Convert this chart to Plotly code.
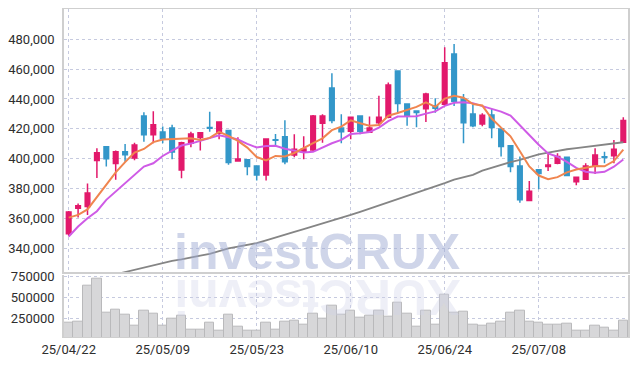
import plotly.graph_objects as go

dates = ["25/04/22", "25/04/23", "25/04/24", "25/04/25", "25/04/28", "25/04/29", "25/04/30", "25/05/02", "25/05/07", "25/05/08",
         "25/05/09", "25/05/12", "25/05/13", "25/05/14", "25/05/15", "25/05/16", "25/05/19", "25/05/20", "25/05/21", "25/05/22",
         "25/05/23", "25/05/26", "25/05/27", "25/05/28", "25/05/29", "25/05/30", "25/06/02", "25/06/04", "25/06/05", "25/06/09",
         "25/06/10", "25/06/11", "25/06/12", "25/06/13", "25/06/16", "25/06/17", "25/06/18", "25/06/19", "25/06/20", "25/06/23",
         "25/06/24", "25/06/25", "25/06/26", "25/06/27", "25/06/30", "25/07/01", "25/07/02", "25/07/03", "25/07/04", "25/07/07",
         "25/07/08", "25/07/09", "25/07/10", "25/07/11", "25/07/14", "25/07/15", "25/07/16", "25/07/17", "25/07/18", "25/07/21"]

open_ = [349600, 366800, 367900, 398700, 407900, 396700, 404700, 400500, 428600, 416100,
         417900, 420600, 392400, 410300, 414100, 420800, 417000, 418800, 398500, 399200,
         395100, 389100, 412700, 414600, 402500, 404500, 405800, 423700, 447400, 420600,
         418400, 428600, 417700, 424100, 427700, 458800, 436700, 432000, 433500, 435500,
         436500, 470100, 439800, 430000, 423300, 429300, 419900, 408700, 395100, 371900,
         392500, 394700, 397000, 401000, 384600, 386200, 395300, 401200, 402000, 411000]
high = [365000, 370000, 383300, 407000, 407900, 405400, 409900, 410700, 431100, 431800,
        421500, 422800, 411400, 418100, 417500, 431500, 424800, 419000, 414400, 399800,
        395300, 413500, 416600, 425700, 416400, 415000, 429300, 429800, 457200, 429800,
        428000, 428600, 428200, 442200, 451000, 458800, 437000, 432000, 444200, 440500,
        474600, 476800, 443300, 436000, 430400, 433300, 420000, 409000, 401400, 385100,
        392500, 403200, 403600, 401000, 388000, 397000, 407000, 404700, 412500, 427700]
low = [348000, 360500, 362300, 387000, 394700, 385800, 398000, 399000, 411400, 410300,
       410300, 399600, 386900, 407700, 405400, 418100, 413000, 396000, 398500, 388900,
       385300, 385300, 409000, 396300, 401000, 399600, 405000, 410700, 423700, 410300,
       413000, 416400, 417700, 421900, 427000, 430500, 422100, 421000, 424600, 430800,
       435500, 435300, 410300, 421000, 421700, 413700, 401400, 390900, 370500, 371500,
       379500, 391800, 396300, 388700, 382200, 386000, 389800, 397000, 397000, 410500]
close = [364300, 368500, 377000, 404000, 400000, 404700, 402700, 409200, 416100, 422800,
         413400, 404500, 410700, 416600, 417400, 420300, 424600, 397400, 399800, 394700,
         389100, 413200, 412400, 398000, 406300, 406500, 428600, 428600, 425500, 418100,
         427700, 418400, 420600, 427700, 449400, 436900, 428600, 430900, 443300, 433800,
         464300, 438500, 424100, 422100, 429100, 420800, 408100, 394700, 372400, 378200,
         390000, 395800, 401400, 388700, 387500, 395100, 402500, 400800, 406300, 425500]

ma5 = [360500, 362300, 366000, 374500, 382800, 390800, 397700, 404100, 406500, 411100,
       412800, 413200, 413500, 413600, 412500, 413900, 417900, 415300, 411900, 407400,
       401100, 398800, 401800, 401500, 403800, 407300, 410400, 413600, 419100, 421500,
       425700, 423700, 422100, 422500, 428800, 430600, 432600, 434700, 437800, 434700,
       440200, 442200, 440800, 436600, 435600, 426900, 420800, 415000, 405000, 394800,
       388700, 386200, 387600, 390800, 392700, 393700, 395000, 394900, 398400, 406000]
ma10 = [347800, 354500, 360100, 364800, 372400, 377900, 383100, 389100, 394700, 396900,
        401800, 405400, 408800, 410100, 411800, 413400, 415600, 414400, 412800, 409900,
        407500, 408400, 408600, 406700, 405600, 404200, 404600, 407700, 410300, 412600,
        416500, 417000, 417800, 420800, 425100, 428200, 428200, 428400, 430200, 431700,
        435400, 437400, 437800, 437200, 435200, 433600, 431500, 428900, 422300, 416200,
        409300, 403500, 401300, 397900, 393800, 391200, 390600, 391200, 394600, 399400]
ma60 = [313000, 315000, 317000, 319000, 320800, 322500, 324000, 325500, 327000, 328800,
        330000, 331500, 332500, 333500, 335000, 336200, 338000, 339800, 341000, 342200,
        343400, 345200, 347300, 349300, 351000, 352800, 354600, 356600, 358500, 360400,
        362300, 364400, 366500, 368800, 371000, 373000, 375000, 377000, 378900, 381200,
        383600, 386000, 387500, 389100, 392000, 394000, 396000, 397700, 399200, 401000,
        402800, 404000, 405200, 406300, 407000, 407800, 408500, 409300, 410100, 411000]

volume = [204800, 216700, 645200, 728600, 323800, 359500, 300000, 160700, 347600, 311900,
          160700, 252400, 279800, 121400, 121400, 204800, 104800, 300000, 152400, 109500,
          109500, 200000, 121400, 211900, 228600, 181000, 311900, 252400, 407100, 291700,
          339300, 256000, 288100, 347600, 267900, 442900, 311900, 148800, 339300, 181000,
          538100, 323800, 335700, 181000, 160700, 192900, 216700, 323800, 347600, 216700,
          204800, 181000, 181000, 192900, 109500, 109500, 169000, 136900, 109500, 228600]

price_ticks = [340000, 360000, 380000, 400000, 420000, 440000, 460000, 480000]
volume_ticks = [250000, 500000, 750000]
date_ticks = dates[::10]

RED = "#e2196b"
BLUE = "#3397c9"
GRID = "#c6cadf"
AXIS = "#cfcfcf"
FONT = "Roboto"

fig = go.Figure()
fig.add_trace(go.Candlestick(
    x=dates, open=open_, high=high, low=low, close=close,
    increasing=dict(line=dict(color=RED, width=1.5), fillcolor=RED),
    decreasing=dict(line=dict(color=BLUE, width=1.5), fillcolor=BLUE),
    whiskerwidth=0, showlegend=False, hoverinfo="skip",
    xaxis="x", yaxis="y"))
fig.add_trace(go.Scatter(x=dates, y=ma60, mode="lines", line=dict(color="#858585", width=1.8),
                         showlegend=False, hoverinfo="skip", xaxis="x", yaxis="y"))
fig.add_trace(go.Scatter(x=dates, y=ma10, mode="lines", line=dict(color="#cf5be6", width=2),
                         showlegend=False, hoverinfo="skip", xaxis="x", yaxis="y"))
fig.add_trace(go.Scatter(x=dates, y=ma5, mode="lines", line=dict(color="#f0854f", width=2),
                         showlegend=False, hoverinfo="skip", xaxis="x", yaxis="y"))
fig.add_trace(go.Bar(x=dates, y=volume, marker=dict(color="#d7d7d9", line=dict(color="#b9b9bb", width=1)),
                     showlegend=False, hoverinfo="skip", xaxis="x2", yaxis="y2"))

common_x = dict(type="category", range=[-0.5, len(dates) - 0.5], tickvals=date_ticks,
                showgrid=True, gridcolor=GRID, griddash="dot", gridwidth=1,
                zeroline=False, ticks="", fixedrange=True, automargin=False)

# The page body has an 8px default margin, so the figure is sized/offset to compensate.
fig.update_layout(
    width=630, height=358,
    margin=dict(l=56, r=10, t=1, b=29),
    paper_bgcolor="white", plot_bgcolor="white",
    font=dict(family=FONT, size=13, color="#2e2e2e"),
    bargap=0,
    showlegend=False,
    xaxis=dict(**common_x, domain=[0, 1], anchor="y", showticklabels=False,
               rangeslider=dict(visible=False), showline=True, linecolor=AXIS, linewidth=1.5, mirror=True),
    yaxis=dict(domain=[0.198, 1], range=[324000, 500300], tickvals=price_ticks, tickformat=",",
               showgrid=True, gridcolor=GRID, griddash="dot", zeroline=False, automargin=False,
               showline=True, linecolor=AXIS, linewidth=1.5, mirror=True, ticks="", ticklabelstandoff=5),
    xaxis2=dict(**common_x, domain=[0, 1], anchor="y2", ticktext=date_ticks,
                showline=True, linecolor=AXIS, linewidth=1, mirror=False),
    yaxis2=dict(domain=[0, 0.19], range=[30000, 774000], tickvals=volume_ticks, tickformat="d",
                showgrid=True, gridcolor=GRID, griddash="dot", zeroline=False, automargin=False,
                showline=True, linecolor=AXIS, linewidth=1.5, mirror=True, ticks="", ticklabelstandoff=5),
    annotations=[
        dict(text="<b>investCRUX</b>", xref="paper", yref="paper", x=0.449, y=0.168,
             xanchor="center", yanchor="bottom", showarrow=False,
             font=dict(family="Liberation Sans", size=50, color="rgba(160,172,212,0.5)")),
        dict(text="<b>XURCtsevni</b>", xref="paper", yref="paper", x=0.449, y=0.215,
             xanchor="center", yanchor="top", showarrow=False, textangle=180,
             font=dict(family="Liberation Sans", size=50, color="rgba(205,208,232,0.35)")),
    ],
)

fig.write_html("out.html")
